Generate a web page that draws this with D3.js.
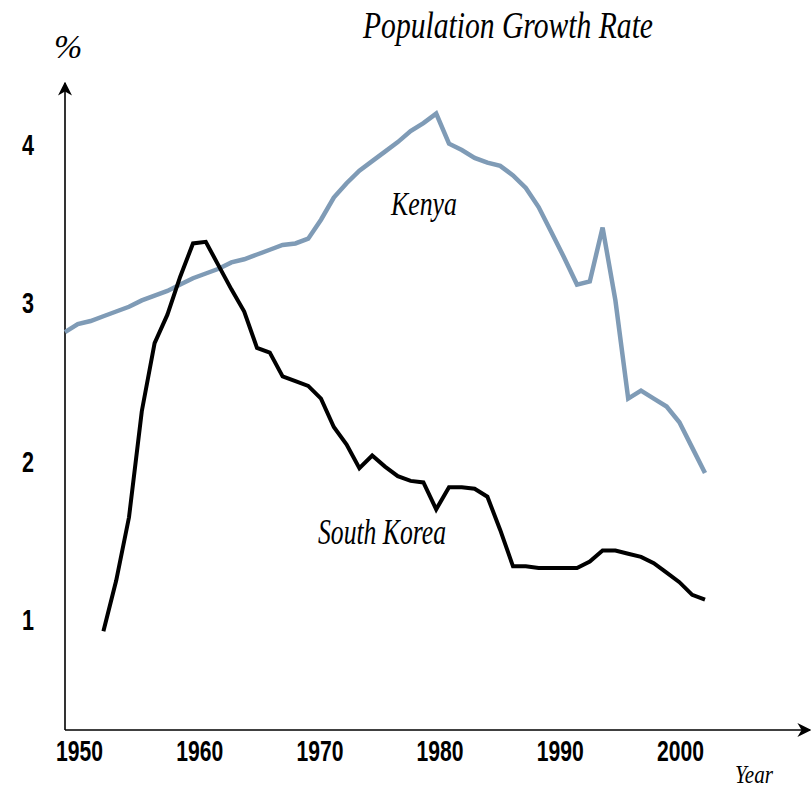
<!DOCTYPE html>
<html>
<head>
<meta charset="utf-8">
<script src="https://d3js.org/d3.v7.min.js"></script>
<style>
  body { margin: 0; background: #fff; }
  .tick text { font-family: "Liberation Sans", Arial, sans-serif; font-weight: bold; font-size: 30px; fill: #000; }
  .lbl { font-family: "Liberation Serif", "Times New Roman", serif; font-style: italic; fill: #000; }
</style>
</head>
<body>
<div id="my_dataviz"></div>
<script>
// years of the series
var years = [1950, 1951, 1952, 1953, 1954, 1955, 1956, 1957, 1958, 1959,
  1960, 1961, 1962, 1963, 1964, 1965, 1966, 1967, 1968, 1969,
  1970, 1971, 1972, 1973, 1974, 1975, 1976, 1977, 1978, 1979,
  1980, 1981, 1982, 1983, 1984, 1985, 1986, 1987, 1988, 1989,
  1990, 1991, 1992, 1993, 1994, 1995, 1996, 1997, 1998, 1999, 2000];

// growth rate in %
var kenya = [2.81, 2.86, 2.88, 2.91, 2.94, 2.97, 3.01, 3.04, 3.07, 3.11,
  3.15, 3.18, 3.21, 3.25, 3.27, 3.30, 3.33, 3.36, 3.37, 3.40,
  3.52, 3.66, 3.75, 3.83, 3.89, 3.95, 4.01, 4.08, 4.13, 4.19,
  4.00, 3.96, 3.91, 3.88, 3.86, 3.80, 3.72, 3.60, 3.44, 3.28,
  3.11, 3.13, 3.47, 3.01, 2.39, 2.44, 2.39, 2.34, 2.24, 2.08, 1.92];

// south korea starts in 1953
var korea = [null, null, null, 0.92, 1.24, 1.64, 2.31, 2.74, 2.92, 3.16,
  3.37, 3.38, 3.23, 3.08, 2.94, 2.71, 2.68, 2.53, 2.50, 2.47,
  2.39, 2.21, 2.10, 1.95, 2.03, 1.96, 1.90, 1.87, 1.86, 1.69,
  1.83, 1.83, 1.82, 1.77, 1.56, 1.33, 1.33, 1.32, 1.32, 1.32,
  1.32, 1.36, 1.43, 1.43, 1.41, 1.39, 1.35, 1.29, 1.23, 1.15, 1.12];

var xTicks = [1950, 1960, 1970, 1980, 1990, 2000];
var yTicks = [1, 2, 3, 4];

var width = 811, height = 790;

var svg = d3.select("#my_dataviz")
  .append("svg")
  .attr("width", width)
  .attr("height", height);

// arrow head for the axes
svg.append("defs").append("marker")
  .attr("id", "arrow")
  .attr("viewBox", "0 0 10 10")
  .attr("refX", 9)
  .attr("refY", 5)
  .attr("markerWidth", 14)
  .attr("markerHeight", 14)
  .attr("markerUnits", "userSpaceOnUse")
  .attr("orient", "auto")
  .append("path")
  .attr("d", "M0,0 L10,5 L0,10 L3,5 Z")
  .attr("fill", "#000");

// scales
var x = d3.scaleLinear().domain([1950, 2000]).range([65, 705]);
// the printed year labels sit a little tighter than the data
var xLabel = d3.scaleLinear().domain([1950, 2000]).range([79, 680]);
var y = d3.scaleLinear().domain([1, 4]).range([618.6, 143.7]);

// axes lines with arrows
svg.append("line")
  .attr("x1", 65).attr("y1", 730)
  .attr("x2", 65).attr("y2", 83)
  .attr("stroke", "#000").attr("stroke-width", 1.6)
  .attr("marker-end", "url(#arrow)");
svg.append("line")
  .attr("x1", 65).attr("y1", 730)
  .attr("x2", 810).attr("y2", 730)
  .attr("stroke", "#000").attr("stroke-width", 1.6)
  .attr("marker-end", "url(#arrow)");

// tick labels, squeezed to look condensed
var gx = svg.append("g")
  .attr("transform", "translate(0,730)")
  .call(d3.axisBottom(xLabel).tickValues(xTicks).tickSize(0).tickFormat(d3.format("d")));
gx.select(".domain").remove();
gx.selectAll("text")
  .attr("y", 31).attr("dy", 0)
  .attr("textLength", 47).attr("lengthAdjust", "spacingAndGlyphs");

var gy = svg.append("g")
  .attr("transform", "translate(65,0)")
  .call(d3.axisLeft(y).tickValues(yTicks).tickSize(0).tickFormat(d3.format("d")));
gy.select(".domain").remove();
gy.selectAll("text")
  .attr("x", -37).attr("dy", "0.36em").style("text-anchor", "middle")
  .attr("textLength", 12).attr("lengthAdjust", "spacingAndGlyphs");

// lines
var line = d3.line()
  .defined(function (d) { return d.v != null; })
  .x(function (d) { return x(d.year); })
  .y(function (d) { return y(d.v); });

var kenyaData = years.map(function (yr, i) { return { year: yr, v: kenya[i] }; });
var koreaData = years.map(function (yr, i) { return { year: yr, v: korea[i] }; });

svg.append("path")
  .datum(kenyaData)
  .attr("fill", "none")
  .attr("stroke", "#7f9bb6")
  .attr("stroke-width", 4.5)
  .attr("d", line);

svg.append("path")
  .datum(koreaData)
  .attr("fill", "none")
  .attr("stroke", "#000")
  .attr("stroke-width", 4)
  .attr("d", line);

// texts
svg.append("text").attr("class", "lbl")
  .attr("x", 363).attr("y", 38)
  .attr("font-size", 37)
  .attr("textLength", 290).attr("lengthAdjust", "spacingAndGlyphs")
  .text("Population Growth Rate");

svg.append("text").attr("class", "lbl")
  .attr("x", 391).attr("y", 215)
  .attr("font-size", 34)
  .attr("textLength", 66).attr("lengthAdjust", "spacingAndGlyphs")
  .text("Kenya");

svg.append("text").attr("class", "lbl")
  .attr("x", 318).attr("y", 544)
  .attr("font-size", 35)
  .attr("textLength", 128).attr("lengthAdjust", "spacingAndGlyphs")
  .text("South Korea");

svg.append("text").attr("class", "lbl")
  .attr("x", 735).attr("y", 783)
  .attr("font-size", 26)
  .attr("textLength", 38).attr("lengthAdjust", "spacingAndGlyphs")
  .text("Year");

svg.append("text").attr("class", "lbl")
  .attr("x", 54).attr("y", 58)
  .attr("font-size", 34)
  .text("%");
</script>
</body>
</html>
